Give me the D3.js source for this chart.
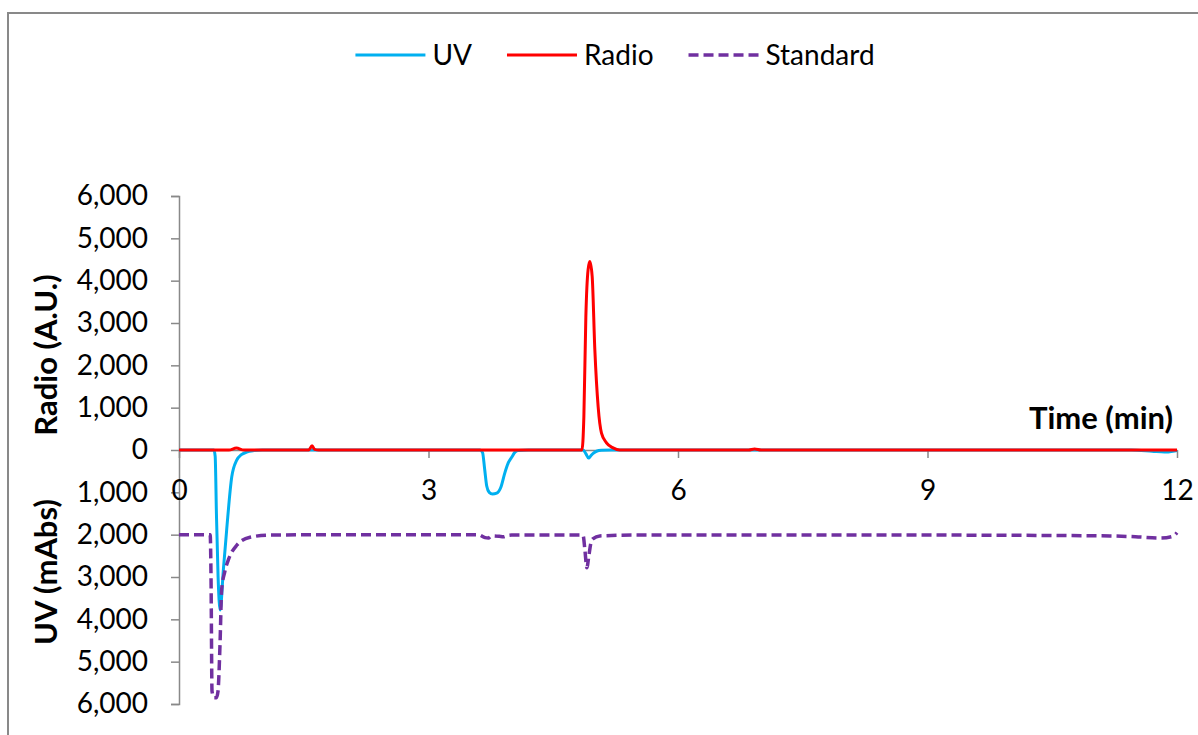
<!DOCTYPE html>
<html>
<head>
<meta charset="utf-8">
<script src="https://cdn.jsdelivr.net/npm/d3@7"></script>
<style>
	body { margin: 0; background: #fff; }
	text { font-family: Lato, 'Open Sans', sans-serif; fill: #000; }
</style>
</head>
<body>
<div id="chart"></div>
<script>

// Chromatogram values. [time (min), value]
// UV and Standard are absorbances (mAbs), drawn downward from the time axis.
const uvData = [
	[0, 0], [0.42, 0], [0.435, 150], [0.45, 1500], [0.47, 3000], [0.495, 3780],
	[0.533, 2840], [0.573, 1890], [0.634, 640], [0.694, 240], [0.75, 110],
	[0.814, 50], [0.9, 15], [1.0, 0], [3.62, 0], [3.65, 60], [3.675, 450],
	[3.7, 850], [3.73, 1000], [3.77, 1040], [3.82, 1020], [3.87, 880],
	[3.918, 540], [3.96, 300], [4.002, 165], [4.04, 50], [4.08, 10], [4.2, 0],
	[4.86, 0], [4.89, 80], [4.925, 190], [4.95, 140], [4.98, 80], [5.02, 30],
	[5.08, 8], [5.2, 0], [11.45, 0], [11.7, 30], [11.85, 50], [11.95, 30], [12, 10]
];

const radioData = [
	[0, 0], [0.6, 0], [0.69, 45], [0.78, 0], [1.56, 0], [1.6, 100], [1.63, 15],
	[1.68, 0], [4.845, 0], [4.868, 780], [4.892, 3150], [4.919, 4260], [4.94, 4450],
	[4.968, 4100], [5.0, 2370], [5.04, 1020], [5.08, 400], [5.14, 170], [5.22, 50],
	[5.3, 0], [6.85, 0], [6.92, 25], [7.0, 0], [12, 0]
];

const standardData = [
	[0, 2000], [0.375, 2000], [0.385, 3000], [0.397, 5700], [0.42, 5850],
	[0.45, 5850], [0.469, 5700], [0.493, 4600], [0.513, 3300], [0.55, 2880],
	[0.6, 2560], [0.694, 2250], [0.854, 2060], [1.094, 2010], [2, 2000],
	[3.6, 2000], [3.68, 2070], [3.72, 2080], [3.76, 2030], [3.85, 2040],
	[3.9, 2050], [3.95, 2020], [4.0, 2010], [4.84, 2010], [4.86, 2030],
	[4.88, 2350], [4.904, 2780], [4.928, 2500], [4.952, 2200], [4.976, 2100],
	[5.06, 2030], [5.5, 2010], [9, 2010], [11.2, 2030], [11.5, 2050],
	[11.8, 2080], [11.95, 2040], [12, 1950]
];

const seriesNames = ['UV', 'Radio', 'Standard'];
const seriesColors = ['#00B0F0', '#FF0000', '#7030A0'];

const xTicks = [0, 3, 6, 9, 12];
const yTicks = [-6000, -5000, -4000, -3000, -2000, -1000, 0, 1000, 2000, 3000, 4000, 5000, 6000];

const xTitle = 'Time (min)';
const yTitleTop = 'Radio (A.U.)';
const yTitleBottom = 'UV (mAbs)';

const width = 1198,
	height = 735,
	axisColor = '#898989',
	fontSize = 28,
	titleSize = 31;

const svg = d3.select('#chart').append('svg')
	.attr('width', width)
	.attr('height', height);

svg.append('rect')
	.attr('width', width)
	.attr('height', height)
	.attr('fill', '#fff');

// chart border (only left + top edges are in frame)
svg.append('rect')
	.attr('x', 8)
	.attr('y', 13)
	.attr('width', 1300)
	.attr('height', 900)
	.attr('fill', 'none')
	.attr('stroke', axisColor)
	.attr('stroke-width', 2);

const x = d3.scaleLinear().domain([0, 12]).range([179, 1177]);
// one continuous scale; the lower half is labelled with absolute values
const y = d3.scaleLinear().domain([-6000, 6000]).range([704, 196]);

// y axis
const yAxis = svg.append('g')
	.attr('transform', `translate(${x(0)},0)`)
	.call(d3.axisLeft(y)
		.tickValues(yTicks)
		.tickSize(8)
		.tickSizeOuter(8)
		.tickPadding(23)
		.tickFormat(d => d3.format(',')(Math.abs(d))));

yAxis.select('.domain').attr('stroke', axisColor).attr('stroke-width', 1.5);
yAxis.selectAll('.tick line').attr('stroke', axisColor).attr('stroke-width', 1.5);
yAxis.selectAll('.tick text')
	.style('font-size', fontSize + 'px')
	.style('font-family', 'Lato, sans-serif')
	.attr('fill', '#000');

// x axis sits on zero
const xAxis = svg.append('g')
	.attr('transform', `translate(0,${y(0)})`)
	.call(d3.axisBottom(x)
		.tickValues(xTicks)
		.tickSize(8)
		.tickSizeOuter(0)
		.tickPadding(22));

xAxis.select('.domain').attr('stroke', axisColor).attr('stroke-width', 1.5);
xAxis.selectAll('.tick line').attr('stroke', axisColor).attr('stroke-width', 1.5);
xAxis.selectAll('.tick text')
	.style('font-size', fontSize + 'px')
	.style('font-family', 'Lato, sans-serif')
	.attr('fill', '#000');

// titles
svg.append('text')
	.attr('x', 1173)
	.attr('y', 429)
	.attr('text-anchor', 'end')
	.style('font-size', titleSize + 'px')
	.style('font-weight', 'bold')
	.text(xTitle);

svg.append('text')
	.attr('transform', 'translate(57,355) rotate(-90)')
	.attr('text-anchor', 'middle')
	.style('font-size', titleSize + 'px')
	.style('font-weight', 'bold')
	.text(yTitleTop);

svg.append('text')
	.attr('transform', 'translate(57,572) rotate(-90)')
	.attr('text-anchor', 'middle')
	.style('font-size', titleSize + 'px')
	.style('font-weight', 'bold')
	.text(yTitleBottom);

// series
const line = d3.line()
	.x(d => x(d[0]))
	.y(d => y(d[1]))
	.curve(d3.curveMonotoneX);

const series = [
	{ name: seriesNames[0], color: seriesColors[0], values: uvData.map(d => [d[0], -d[1]]), dash: null, w: 3 },
	{ name: seriesNames[1], color: seriesColors[1], values: radioData, dash: null, w: 3 },
	{ name: seriesNames[2], color: seriesColors[2], values: standardData.map(d => [d[0], -d[1]]), dash: '10,5', w: 3.5 }
];

svg.selectAll('.series')
	.data(series)
	.enter()
	.append('path')
		.attr('class', 'series')
		.attr('d', d => line(d.values))
		.attr('fill', 'none')
		.attr('stroke', d => d.color)
		.attr('stroke-width', d => d.w)
		.attr('stroke-dasharray', d => d.dash)
		.attr('stroke-linejoin', 'round');

// legend, laid out left to right and centred
const legend = svg.append('g').attr('class', 'legend');
const legendItems = legend.selectAll('g')
	.data(series)
	.enter().append('g');

legendItems.append('line')
	.attr('x1', 0)
	.attr('x2', 70)
	.attr('stroke', d => d.color)
	.attr('stroke-width', d => d.w)
	.attr('stroke-dasharray', d => d.dash);

legendItems.append('text')
	.attr('x', 77)
	.attr('dy', '0.35em')
	.style('font-size', fontSize + 'px')
	.text(d => d.name);

let cursor = 0;
legendItems.each(function() {
	const g = d3.select(this);
	g.attr('transform', `translate(${cursor},0)`);
	cursor += 77 + g.select('text').node().getComputedTextLength() + 35;
});
cursor -= 35;
legend.attr('transform', `translate(${615 - cursor / 2},55)`);

</script>
</body>
</html>
